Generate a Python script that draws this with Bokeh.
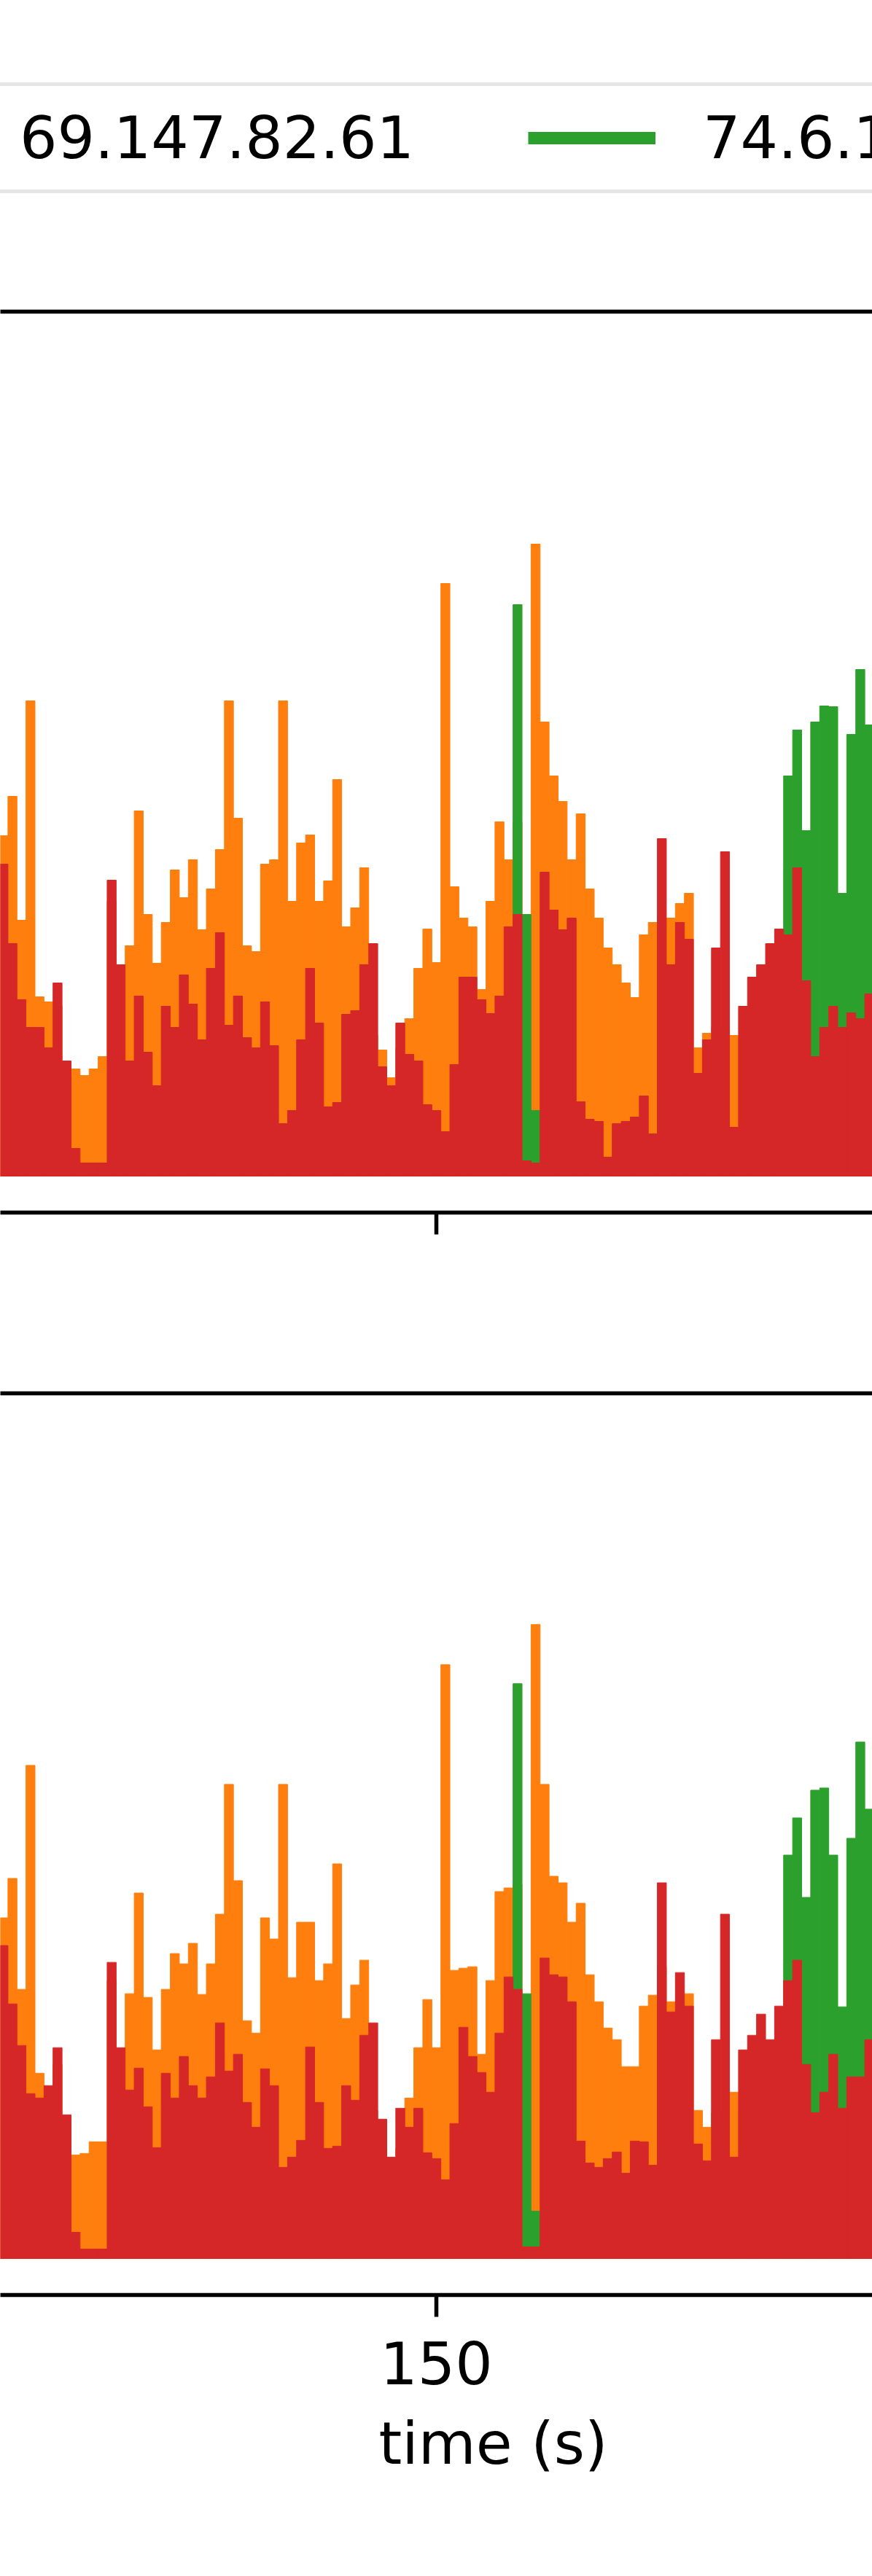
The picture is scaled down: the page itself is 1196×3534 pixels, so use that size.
from bokeh.plotting import figure
from bokeh.models import Range1d, LinearAxis, FixedTicker, Legend, LegendItem, Title
from bokeh.layouts import column
from bokeh.embed import file_html
from bokeh.resources import INLINE

# ---------------- data ----------------
time_s = list(range(102, 199))          # bin centres (s), 1 s bins

labels = ["69.147.82.61", "74.6.18.240", "98.137.11.164"]
colors = ["#ff7f0e", "#2ca02c", "#d62728"]

# top panel
orange_top = [46.7, 52.1, 35.1, 65.2, 24.6, 23.9, 23.3, 12.4, 14.7, 13.8,
              14.7, 16.4, 37.7, 26.2, 31.6, 50.1, 35.9, 29.2, 34.8, 42.0,
              38.2, 43.4, 33.8, 39.4, 44.8, 65.2, 49.1, 31.6, 30.8, 42.8,
              43.4, 65.2, 37.7, 45.7, 46.8, 37.7, 40.5, 54.4, 34.2, 36.8,
              42.3, 19.3, 17.3, 13.5, 17.6, 21.6, 28.5, 33.9, 29.3, 81.3,
              39.7, 35.4, 34.2, 25.6, 37.7, 48.6, 43.4, 48.6, 31.9, 86.7,
              62.3, 54.9, 51.4, 43.4, 49.7, 39.4, 35.4, 31.3, 29.0, 26.5,
              24.5, 33.1, 34.8, 35.4, 35.4, 37.4, 38.8, 17.6, 19.6, 20.4,
              20.4, 19.3, 19.3, 18.0, 18.0, 18.0, 30.0, 31.1, 25.0, 20.0,
              10.0, 10.0, 10.0, 10.0, 10.0, 10.0, 10.0]
green_top = [0.0] * 57 + [78.4, 35.9, 9.0] + [0.0] * 27 + \
            [54.9, 61.2, 47.4, 62.3, 64.5, 64.4, 38.8, 60.6, 69.5, 61.9]
red_top = [42.8, 31.9, 24.2, 20.4, 20.4, 17.6, 26.5, 15.8, 3.8, 1.8,
           1.8, 1.8, 40.6, 29.0, 15.8, 24.7, 17.0, 12.4, 23.3, 20.4,
           27.6, 23.6, 18.7, 28.5, 33.4, 20.7, 24.7, 19.0, 17.6, 23.9,
           17.9, 7.2, 9.0, 18.7, 28.5, 21.0, 9.5, 10.1, 22.2, 22.7,
           29.0, 31.9, 15.0, 12.4, 21.0, 16.7, 15.8, 9.8, 9.0, 6.1,
           15.3, 27.3, 27.3, 24.2, 22.3, 24.7, 34.2, 35.9, 2.1, 1.8,
           41.7, 36.5, 33.8, 35.4, 10.2, 7.8, 7.5, 2.6, 7.2, 7.5,
           8.1, 11.0, 5.8, 46.3, 29.0, 34.8, 32.5, 14.1, 18.7, 31.3,
           44.5, 6.7, 23.3, 27.3, 29.0, 31.9, 33.9, 33.1, 42.3, 26.8,
           16.4, 20.4, 23.3, 20.4, 22.4, 21.6, 25.0]

# bottom panel
orange_bot = [46.7, 52.1, 36.9, 67.6, 25.4, 22.0, 26.6, 12.2, 14.2, 14.4,
              16.0, 16.0, 38.1, 26.6, 36.3, 50.1, 35.8, 28.6, 36.9, 41.8,
              40.4, 43.2, 36.2, 40.4, 47.2, 65.0, 51.8, 32.6, 30.9, 46.7,
              43.8, 65.0, 38.5, 46.1, 46.1, 38.1, 40.4, 54.1, 32.9, 37.5,
              40.9, 20.3, 15.1, 12.2, 15.1, 22.0, 28.9, 35.5, 28.9, 81.4,
              39.5, 39.8, 40.0, 28.0, 38.1, 50.3, 50.8, 51.3, 32.3, 86.9,
              65.0, 52.4, 51.5, 46.1, 48.7, 38.9, 35.2, 31.6, 30.0, 26.3,
              26.3, 34.6, 36.1, 40.0, 35.2, 35.0, 36.3, 20.3, 18.0, 20.0,
              20.0, 22.8, 20.0, 20.0, 20.0, 20.0, 20.0, 20.0, 20.0, 15.0,
              12.0, 12.0, 12.0, 12.0, 12.0, 12.0, 12.0]
green_bot = [0.0] * 57 + [78.8, 36.3, 6.5] + [0.0] * 27 + \
            [55.3, 60.4, 49.5, 64.2, 64.5, 55.3, 34.5, 57.6, 70.8, 61.6]
red_bot = [42.9, 34.9, 29.2, 22.6, 22.0, 23.7, 28.9, 19.7, 3.6, 1.3,
           1.3, 1.3, 40.6, 28.9, 23.1, 26.1, 20.8, 15.2, 25.4, 22.0,
           27.7, 23.7, 22.0, 24.9, 32.3, 25.7, 28.0, 21.4, 18.0, 26.0,
           23.7, 12.5, 13.9, 16.2, 29.0, 21.4, 15.1, 15.4, 23.7, 21.7,
           30.6, 32.3, 19.1, 13.9, 20.6, 18.0, 20.6, 14.5, 13.7, 10.8,
           18.5, 31.7, 27.7, 25.5, 22.8, 30.9, 38.6, 36.9, 1.6, 1.6,
           41.2, 38.9, 38.6, 35.2, 16.1, 13.1, 12.5, 13.7, 14.6, 11.7,
           16.1, 16.0, 12.8, 51.5, 33.8, 39.2, 34.6, 15.7, 13.4, 30.0,
           47.2, 13.9, 28.6, 30.6, 33.5, 30.0, 34.6, 38.1, 40.9, 26.6,
           20.0, 22.8, 28.0, 20.6, 24.9, 24.9, 30.0]

xtick_values = [100, 150, 200]
FONT = "DejaVu Sans"
FS = "81px"
W = 1196


def make_fig(frame_h, top_b, bottom_b, show_labels):
    p = figure(frame_width=W, frame_height=frame_h,
               x_range=Range1d(101.66, 198.34), y_range=Range1d(-5.0, 118.6),
               output_backend="svg", toolbar_location=None,
               y_axis_location=None, x_axis_location="below",
               min_border_left=0, min_border_right=0,
               min_border_top=top_b, min_border_bottom=bottom_b,
               background_fill_color="white", border_fill_color="white",
               outline_line_color=None)
    p.xgrid.visible = False
    p.ygrid.visible = False
    ax = p.xaxis[0]
    ax.ticker = FixedTicker(ticks=xtick_values)
    ax.axis_line_color = "black"
    ax.axis_line_width = 5.5
    ax.major_tick_line_color = "black"
    ax.major_tick_line_width = 5.5
    ax.major_tick_out = 30
    ax.major_tick_in = 0
    ax.minor_tick_out = 0
    ax.minor_tick_in = 0
    ax.major_label_text_font = FONT
    ax.major_label_text_font_size = FS if show_labels else "0px"
    ax.major_label_text_color = "black"
    ax.major_label_standoff = 33
    if not show_labels:
        ax.major_label_overrides = {v: "" for v in xtick_values}
    top = LinearAxis(ticker=FixedTicker(ticks=[]), axis_line_color="black",
                     axis_line_width=5.5, major_tick_out=0, major_tick_in=0,
                     minor_tick_out=0, minor_tick_in=0,
                     major_label_text_font_size="0px")
    p.add_layout(top, "above")
    return p


def draw_series(p, series):
    for vals, col in series:
        xs = [t for t, v in zip(time_s, vals) if v > 0]
        ys = [v for v in vals if v > 0]
        p.vbar(x=xs, width=1.0, top=ys, bottom=0,
               fill_color=col, line_color=col, line_width=1)


# ---- legend strip (matplotlib legend above the axes) ----
pl = figure(width=W, height=407, output_backend="svg", toolbar_location=None,
            x_axis_location=None, y_axis_location=None,
            x_range=Range1d(0, 1), y_range=Range1d(0, 1),
            min_border=0, outline_line_color=None,
            background_fill_color="white", border_fill_color="white")
pl.xgrid.visible = False
pl.ygrid.visible = False
# legend handles: line renderers of the series (their data lie outside this strip's range)
proxies = [pl.line(x=time_s, y=vals, line_color=c, line_width=17)
           for vals, c in zip([orange_top, green_top, red_top], colors)]
legend = Legend(items=[LegendItem(label=l, renderers=[r]) for l, r in zip(labels, proxies)],
                orientation="horizontal", location=(-241, 142),
                glyph_width=175, glyph_height=96, label_height=96,
                label_standoff=65, spacing=156, padding=23, margin=0,
                border_line_color="#cccccc", border_line_width=5,
                background_fill_color="white", background_fill_alpha=1.0,
                label_text_font=FONT, label_text_font_size=FS,
                label_text_color="black")
pl.add_layout(legend, "center")

p1 = make_fig(1236, 20, 120, False)
draw_series(p1, [(orange_top, colors[0]), (green_top, colors[1]), (red_top, colors[2])])

p2 = make_fig(1237, 128, 290, True)
draw_series(p2, [(orange_bot, colors[0]), (green_bot, colors[1]), (red_bot, colors[2])])
p2.add_layout(Title(text="time (s)", align="left", offset=519, text_font=FONT,
                    text_font_size=FS, text_font_style="normal",
                    text_color="black", standoff=58), "below")

layout = column(pl, p1, p2, spacing=0)
open("out.html", "w").write(file_html(layout, INLINE))
